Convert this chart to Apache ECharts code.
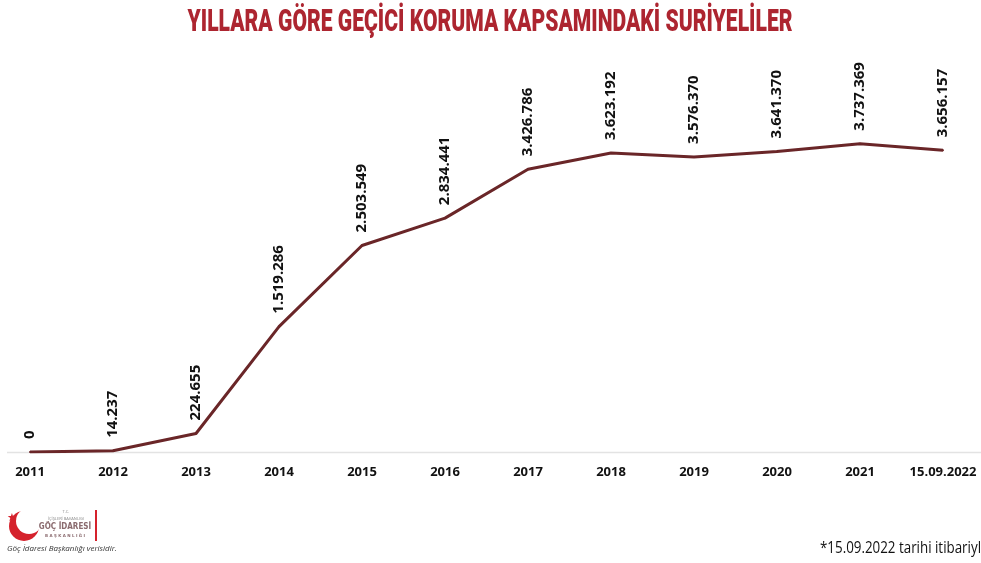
<!DOCTYPE html>
<html>
<head>
<meta charset="utf-8">
<script src="https://cdn.jsdelivr.net/npm/echarts@6/dist/echarts.min.js"></script>
<style>
  html, body { margin: 0; padding: 0; background: #fff; }
  #chart { width: 981px; height: 563px; }
</style>
</head>
<body>
<div id="chart"></div>
<script>
// yıllar ve kişi sayıları
const years = ['2011', '2012', '2013', '2014', '2015', '2016', '2017', '2018', '2019', '2020', '2021', '15.09.2022'];
const counts = [0, 14237, 224655, 1519286, 2503549, 2834441, 3426786, 3623192, 3576370, 3641370, 3737369, 3656157];

const titleText = 'YILLARA GÖRE GEÇİCİ KORUMA KAPSAMINDAKİ SURİYELİLER';
const noteText = '*15.09.2022 tarihi itibariyl';

// dar yazı için metin genişliğini ölç
const measure = (text, font) => {
  const ctx = document.createElement('canvas').getContext('2d');
  ctx.font = font;
  return ctx.measureText(text).width;
};

const titleFont = '900 31px Roboto';
const titleScale = 605 / measure(titleText, titleFont);
const noteFont = '16px "Open Sans"';
const noteScale = 161 / measure(noteText, noteFont);

const fmt = v => String(v).replace(/\B(?=(\d{3})+(?!\d))/g, '.');

const chart = echarts.init(document.getElementById('chart'));

const option = {
  backgroundColor: '#fff',
  animation: false,
  grid: { left: 30, right: 38, top: 122, bottom: 111 },
  xAxis: {
    type: 'category',
    data: years,
    boundaryGap: false,
    axisLine: { show: false },
    axisTick: { show: false },
    axisLabel: {
      margin: 14,
      color: '#111',
      fontFamily: 'Open Sans',
      fontWeight: 'bold',
      fontSize: 13,
      interval: 0
    }
  },
  yAxis: {
    type: 'value',
    min: 0,
    max: 4000000,
    show: false
  },
  series: [
    {
      type: 'line',
      data: counts,
      symbol: 'circle',
      symbolSize: 2,
      showSymbol: true,
      itemStyle: { color: '#6a2628' },
      lineStyle: { color: '#6a2628', width: 3 },
      labelLayout: { hideOverlap: false },
      label: {
        show: true,
        position: 'top',
        distance: 12,
        rotate: 90,
        align: 'left',
        verticalAlign: 'middle',
        color: '#111',
        fontFamily: 'Open Sans',
        fontWeight: 'bold',
        fontSize: 15,
        formatter: p => fmt(p.value)
      }
    }
  ],
  graphic: [
    {
      type: 'text',
      x: 490,
      y: 23,
      scaleX: titleScale,
      style: {
        text: titleText,
        font: titleFont,
        fill: '#ad2530',
        align: 'center',
        verticalAlign: 'middle'
      }
    },
    {
      type: 'line',
      shape: { x1: 7, y1: 452.5, x2: 981, y2: 452.5 },
      style: { stroke: '#e3e3e3', lineWidth: 1.5 },
      z: -1
    },
    {
      type: 'text',
      x: 981,
      y: 548,
      scaleX: noteScale,
      style: {
        text: noteText,
        font: noteFont,
        fill: '#111',
        align: 'right',
        verticalAlign: 'middle'
      }
    },
    // logo: hilal ve yıldız
    {
      type: 'circle',
      shape: { cx: 24, cy: 526, r: 15 },
      style: { fill: '#d5222c' }
    },
    {
      type: 'circle',
      shape: { cx: 29, cy: 521, r: 13 },
      style: { fill: '#fff' }
    },
    {
      type: 'text',
      x: 12,
      y: 518,
      style: { text: '★', font: '11px "DejaVu Sans"', fill: '#d5222c', align: 'center', verticalAlign: 'middle' }
    },
    {
      type: 'text',
      x: 66,
      y: 512,
      style: { text: 'T.C.', font: '4px "Open Sans"', fill: '#888', align: 'center', verticalAlign: 'middle' }
    },
    {
      type: 'text',
      x: 66,
      y: 519,
      style: { text: 'İÇİŞLERİ BAKANLIĞI', font: '4px "Open Sans"', fill: '#888', align: 'center', verticalAlign: 'middle' }
    },
    {
      type: 'text',
      x: 65,
      y: 527,
      style: { text: 'GÖÇ İDARESİ', font: 'bold 8px "DejaVu Sans Condensed", "DejaVu Sans"', fill: '#8a6a6e', align: 'center', verticalAlign: 'middle' }
    },
    {
      type: 'text',
      x: 65,
      y: 536,
      style: { text: 'B A Ş K A N L I Ğ I', font: 'bold 4px "DejaVu Sans"', fill: '#8a6a6e', align: 'center', verticalAlign: 'middle' }
    },
    {
      type: 'rect',
      shape: { x: 95, y: 510, width: 2, height: 31 },
      style: { fill: '#d5222c' }
    },
    {
      type: 'text',
      x: 7,
      y: 549,
      style: { text: 'Göç İdaresi Başkanlığı verisidir.', font: 'italic 8px "Open Sans"', fill: '#333', align: 'left', verticalAlign: 'middle' }
    }
  ]
};

chart.setOption(option);
</script>
</body>
</html>
